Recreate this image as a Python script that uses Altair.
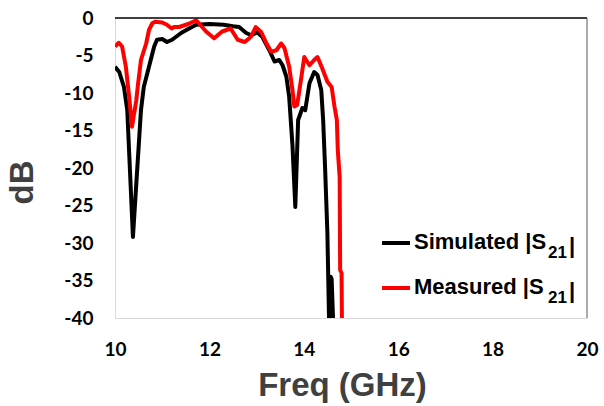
import altair as alt
import pandas as pd

# ---- data ----
sim_freq = [10.0, 10.09, 10.19, 10.26, 10.38, 10.55, 10.61, 10.72, 10.83, 10.89, 11.0, 11.1, 11.21,
            11.4, 11.57, 11.72, 12.0, 12.3, 12.5, 12.63, 12.78, 12.89, 13.01, 13.12, 13.27, 13.38,
            13.48, 13.55, 13.63, 13.69, 13.76, 13.82, 13.88, 13.97, 14.03, 14.12, 14.22, 14.29,
            14.37, 14.41, 14.45, 14.5, 14.54, 14.57, 14.59, 14.63]
sim_db = [-6.5, -7.2, -9.2, -12.3, -29.2, -12.3, -9.2, -6.5, -3.8, -2.9, -2.8, -3.2, -2.9,
          -2.0, -1.4, -0.9, -0.8, -0.9, -1.1, -1.2, -2.0, -2.3, -1.9, -2.5, -4.3, -5.8,
          -5.6, -6.3, -7.8, -10.5, -17.0, -25.2, -13.6, -12.0, -12.3, -8.7, -7.2, -7.6,
          -9.6, -13.6, -19.8, -28.7, -42.0, -34.5, -34.8, -42.0]

meas_freq = [10.0, 10.08, 10.15, 10.23, 10.3, 10.36, 10.45, 10.49, 10.55, 10.66, 10.72, 10.79,
             10.85, 11.0, 11.1, 11.2, 11.25, 11.36, 11.55, 11.72, 11.93, 12.1, 12.27, 12.45,
             12.6, 12.75, 12.88, 12.98, 13.1, 13.21, 13.31, 13.42, 13.52, 13.59, 13.69, 13.76,
             13.8, 13.86, 13.95, 14.01, 14.12, 14.22, 14.29, 14.39, 14.5, 14.59, 14.65, 14.7,
             14.72, 14.76, 14.77, 14.8, 14.81]
meas_db = [-3.8, -3.3, -3.8, -6.5, -10.5, -14.5, -11.0, -8.7, -5.6, -3.4, -1.6, -0.7,
           -0.5, -0.6, -0.9, -1.4, -1.2, -1.2, -0.8, -0.3, -1.8, -2.7, -1.8, -1.4,
           -2.9, -3.2, -2.5, -1.2, -1.9, -3.4, -4.5, -4.3, -3.4, -4.0, -6.5, -9.6,
           -11.8, -11.6, -7.8, -5.2, -6.3, -5.6, -5.2, -6.7, -8.5, -9.2, -11.8, -13.6,
           -17.6, -21.2, -33.6, -34.0, -42.0]

x_ticks = [10, 12, 14, 16, 18, 20]
y_ticks = [0, -5, -10, -15, -20, -25, -30, -35, -40]
legend_main = ["Simulated |S", "Measured |S"]
legend_sub = "21"
colors = ["#000000", "#ff0000"]

sim = pd.DataFrame({"freq": sim_freq, "db": sim_db, "idx": range(len(sim_freq))})
meas = pd.DataFrame({"freq": meas_freq, "db": meas_db, "idx": range(len(meas_freq))})

W, H = 472, 300

x_axis = alt.Axis(values=x_ticks, title="Freq (GHz)", grid=False, ticks=False,
                  tickSize=0, domainColor="#d9d9d9", domainWidth=1,
                  labelFont="Lato", labelFontSize=19, labelFontWeight="bold",
                  labelColor="#000000", labelPadding=22, labelFlush=False,
                  labelOverlap=False,
                  titleFont="Liberation Sans", titleFontSize=33,
                  titleFontWeight="bold", titleColor="#404040",
                  titleX=227, titleY=77, titleBaseline="alphabetic",
                  titleAlign="center")
y_axis = alt.Axis(values=y_ticks, title="dB", grid=False, ticks=False,
                  tickSize=0, domainColor="#d9d9d9", domainWidth=1,
                  labelFont="Lato", labelFontSize=19, labelFontWeight="bold",
                  labelColor="#000000", labelPadding=22, labelOverlap=False,
                  labelFlush=False, labelExpr="'' + datum.value",
                  titleFont="Liberation Sans", titleFontSize=33,
                  titleFontWeight="bold", titleColor="#404040",
                  titleAngle=270, titleX=-93, titleY=164,
                  titleBaseline="middle", titleAlign="center")
x_scale = alt.Scale(domain=[10, 20], nice=False, zero=False)
y_scale = alt.Scale(domain=[-40, 0], nice=False, zero=False)


def xe():
    return alt.X("freq:Q", scale=x_scale, axis=x_axis)


def ye():
    return alt.Y("db:Q", scale=y_scale, axis=y_axis)


sim_line = alt.Chart(sim).mark_line(color=colors[0], strokeWidth=4, clip=True,
                                    strokeJoin="round").encode(
    x=xe(), y=ye(), order="idx:Q")
meas_line = alt.Chart(meas).mark_line(color=colors[1], strokeWidth=4, clip=True,
                                      strokeJoin="round").encode(
    x=xe(), y=ye(), order="idx:Q")

top_rule = alt.Chart(pd.DataFrame({"db": [0]})).mark_rule(
    color="#000000", strokeWidth=1.5).encode(y=ye())
right_rule = alt.Chart(pd.DataFrame({"freq": [20]})).mark_rule(
    color="#595959", strokeWidth=1).encode(x=xe())

one = pd.DataFrame({"k": [0]})
legend_layers = []
row_base = [231, 276]
row_line = [225, 270]
for i in range(2):
    legend_layers.append(alt.Chart(one).mark_rule(color=colors[i], strokeWidth=4).encode(
        x=alt.value(267), x2=alt.value(295), y=alt.value(row_line[i])))
    legend_layers.append(alt.Chart(one).mark_text(
        text=legend_main[i], font="Liberation Sans", fontSize=22, fontWeight="bold",
        align="left", baseline="alphabetic", color="#000000").encode(
        x=alt.value(299), y=alt.value(row_base[i])))
    legend_layers.append(alt.Chart(one).mark_text(
        text=legend_sub, font="Liberation Sans", fontSize=17, fontWeight="bold",
        align="left", baseline="alphabetic", color="#000000").encode(
        x=alt.value(433), y=alt.value(row_base[i] + 9)))
    legend_layers.append(alt.Chart(one).mark_text(
        text="|", font="Liberation Sans", fontSize=22, fontWeight="bold",
        align="left", baseline="alphabetic", color="#000000").encode(
        x=alt.value(454), y=alt.value(row_base[i] + 4)))

chart = alt.layer(sim_line, meas_line, top_rule, right_rule, *legend_layers).properties(
    width=W, height=H,
    autosize=alt.AutoSizeParams(type="none"),
    padding={"left": 115, "top": 18, "right": 17, "bottom": 88},
    background="#ffffff",
).configure_view(stroke=None)

chart.save("out.html", embed_options={"renderer": "svg", "actions": False})
